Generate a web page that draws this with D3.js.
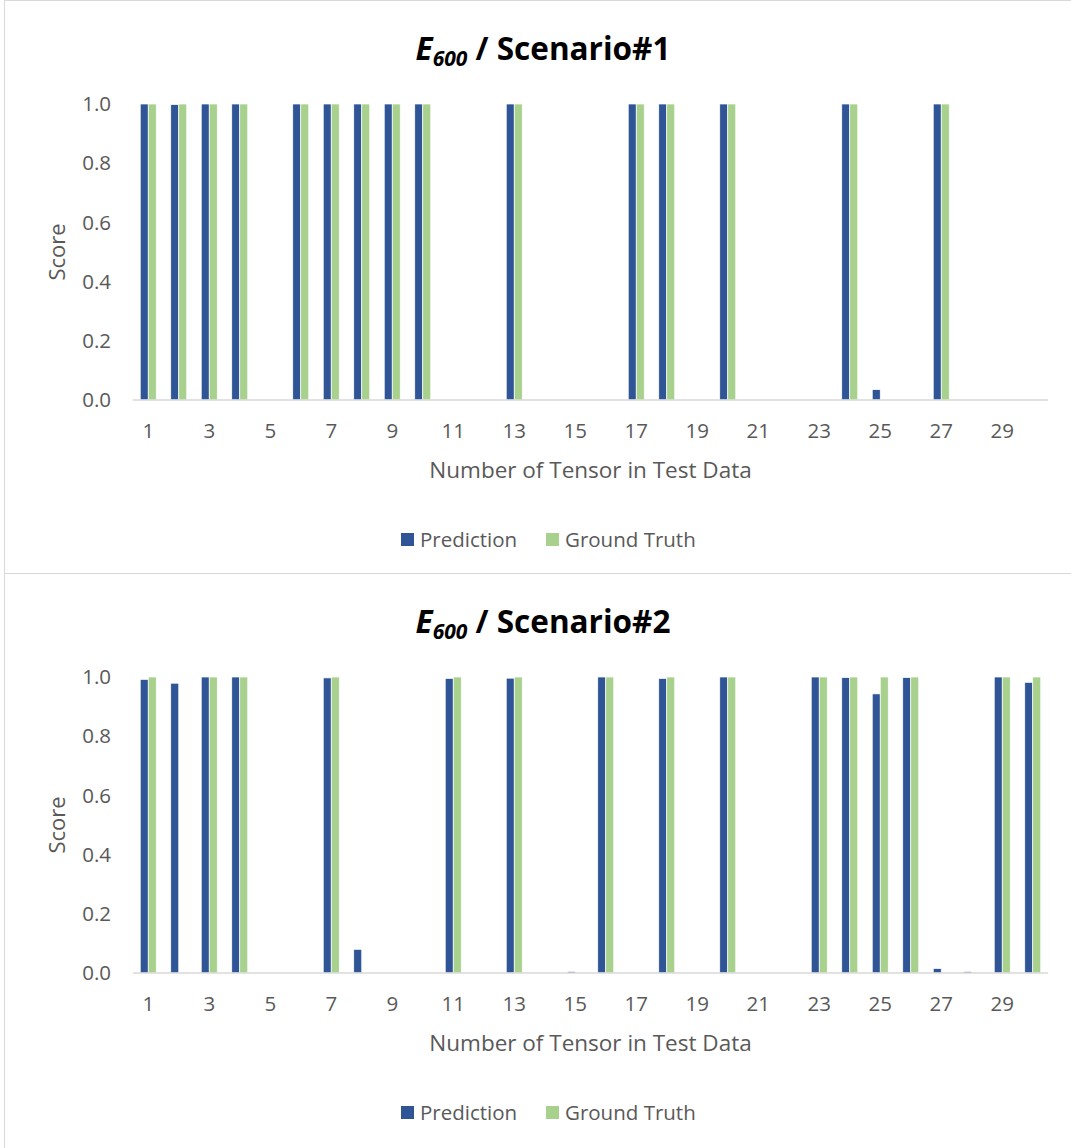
<!DOCTYPE html>
<html>
<head>
<meta charset="utf-8">
<script src="https://cdn.jsdelivr.net/npm/d3@7"></script>
<style>
  body { margin: 0; background: #fff; }
  text { font-family: "Open Sans", sans-serif; }
</style>
</head>
<body>
<div id="chart"></div>
<script>
// tensor numbers on the x axis
const tensors = d3.range(1, 31)
const tickLabels = [1, 3, 5, 7, 9, 11, 13, 15, 17, 19, 21, 23, 25, 27, 29]
const yTicks = [0, 0.2, 0.4, 0.6, 0.8, 1.0]
const seriesNames = ['Prediction', 'Ground Truth']
const seriesColors = ['#2F5597', '#A9D18E']

// scenario 1
const s1Pred  = [1, 0.998, 1, 1, 0, 1, 1, 1, 1, 1, 0, 0, 1, 0, 0, 0, 1, 1, 0, 1, 0, 0, 0, 1, 0.035, 0, 1, 0, 0, 0]
const s1Truth = [1, 1, 1, 1, 0, 1, 1, 1, 1, 1, 0, 0, 1, 0, 0, 0, 1, 1, 0, 1, 0, 0, 0, 1, 0, 0, 1, 0, 0, 0]

// scenario 2
const s2Pred  = [0.992, 0.979, 1, 1, 0, 0, 0.997, 0.08, 0, 0, 0.995, 0, 0.996, 0, 0.005, 1, 0, 0.995, 0, 1, 0, 0, 1, 0.998, 0.943, 0.998, 0.015, 0.005, 1, 0.982]
const s2Truth = [1, 0, 1, 1, 0, 0, 1, 0, 0, 0, 1, 0, 1, 0, 0, 1, 0, 1, 0, 1, 0, 0, 1, 1, 1, 1, 0, 0, 1, 1]

const W = 1071, H = 1148

const svg = d3.select('#chart').append('svg')
  .attr('width', W).attr('height', H)

//one chart panel, offset vertically by top
function drawPanel(top, frameH, scenario, pred, truth){

  const g = svg.append('g').attr('transform', 'translate(0,' + top + ')')

  g.append('rect')
    .attr('x', 4.5).attr('y', 0.5)
    .attr('width', W + 10).attr('height', frameH)
    .attr('fill', '#fff').attr('stroke', '#D9D9D9').attr('stroke-width', 1)

  const dims = { left: 133, right: 1048, top: 104, bottom: 400 }

  const x = d3.scaleBand().domain(tensors).range([dims.left, dims.right]).paddingInner(0.475).paddingOuter(0.2375)
  const xs = d3.scaleBand().domain(seriesNames).range([0, x.bandwidth()])
  const y = d3.scaleLinear().domain([0, 1]).range([dims.bottom, dims.top])

  // title with subscript
  const t = g.append('text')
    .attr('x', 543).attr('y', 60)
    .attr('text-anchor', 'middle')
    .style('font-size', '31.5px').style('font-weight', 'bold').style('fill', '#000')
  t.append('tspan').style('font-style', 'italic').text('E')
  t.append('tspan').style('font-style', 'italic').style('font-size', '21px').attr('dy', 6).text('600')
  t.append('tspan').attr('dy', -6).text(' / ' + scenario)

  // y axis labels
  g.append('g').selectAll('text').data(yTicks).join('text')
    .attr('x', 111).attr('y', d => y(d)).attr('dy', '0.35em')
    .attr('text-anchor', 'end')
    .style('font-size', '20.5px').style('fill', '#595959')
    .text(d => d3.format('.1f')(d))

  g.append('text')
    .attr('transform', 'rotate(-90)')
    .attr('x', -(dims.top + dims.bottom) / 2).attr('y', 65)
    .attr('text-anchor', 'middle')
    .style('font-size', '22px').style('fill', '#595959')
    .text('Score')

  // bars
  const rows = tensors.map((n, i) => ({ n: n, vals: [pred[i], truth[i]] }))
  const grp = g.append('g').selectAll('g').data(rows).join('g')
    .attr('transform', d => 'translate(' + x(d.n) + ',0)')
  grp.selectAll('rect').data(d => d.vals.map((v, k) => ({ k: k, v: v }))).join('rect')
    .filter(d => d.v > 0)
    .attr('x', d => xs(seriesNames[d.k]))
    .attr('width', xs.bandwidth())
    .attr('y', d => y(d.v))
    .attr('height', d => y(0) - y(d.v))
    .attr('fill', d => seriesColors[d.k])
    .attr('stroke', '#fff').attr('stroke-width', 0.7)

  // x axis
  const xAxis = d3.axisBottom(x).tickValues(tickLabels).tickSize(0).tickPadding(23)
  const ax = g.append('g').attr('transform', 'translate(0,' + dims.bottom + ')').call(xAxis)
  ax.select('.domain').attr('stroke', '#D9D9D9').attr('stroke-width', 1.5)
    .attr('d', 'M' + dims.left + ',0H' + dims.right)
  ax.selectAll('text').style('font-size', '20.5px').style('fill', '#595959')
    .style('font-family', '"Open Sans", sans-serif')

  g.append('text')
    .attr('x', (dims.left + dims.right) / 2).attr('y', 478)
    .attr('text-anchor', 'middle')
    .style('font-size', '22.5px').style('fill', '#595959')
    .text('Number of Tensor in Test Data')

  // legend
  const leg = g.append('g').attr('transform', 'translate(0,547)')
  const legX = [401, 546]
  seriesNames.forEach(function(name, k){
    leg.append('rect')
      .attr('x', legX[k]).attr('y', -14).attr('width', 13).attr('height', 13)
      .attr('fill', seriesColors[k])
    leg.append('text')
      .attr('x', legX[k] + 19).attr('y', 0)
      .style('font-size', '20.5px').style('fill', '#595959')
      .text(name)
  })
}

drawPanel(0, 577, 'Scenario#1', s1Pred, s1Truth)
drawPanel(573, 580, 'Scenario#2', s2Pred, s2Truth)
</script>
</body>
</html>
